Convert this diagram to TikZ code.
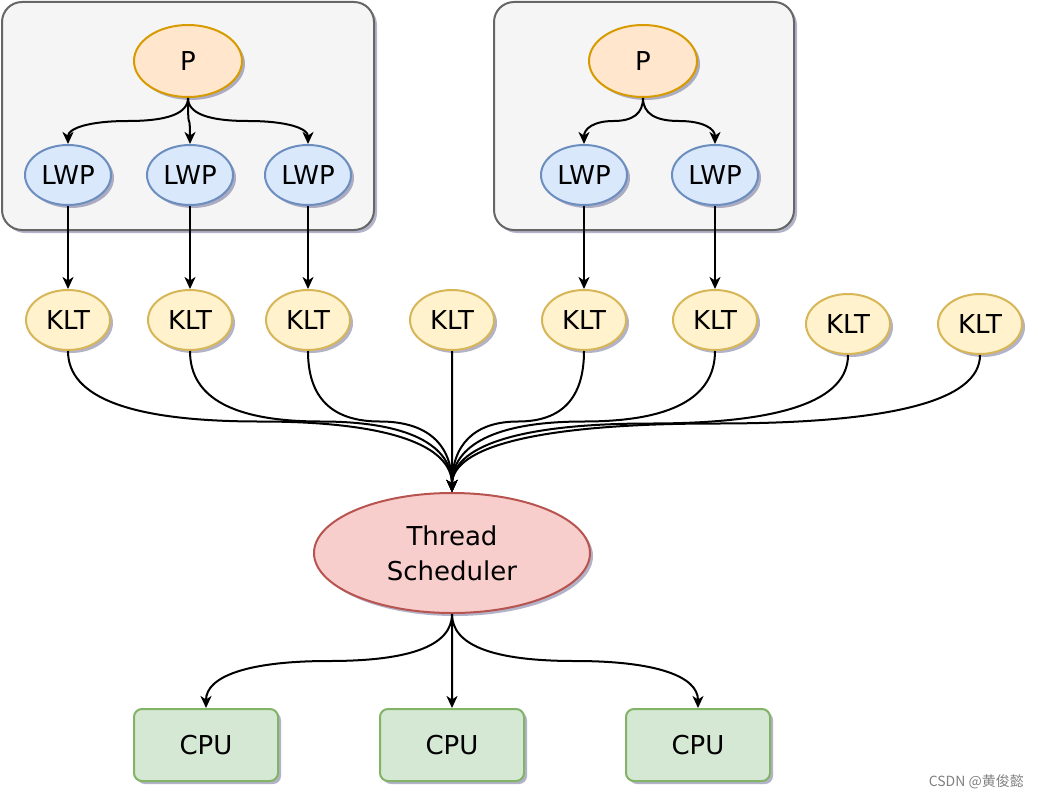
\documentclass[tikz,border=0pt]{standalone}
\usepackage{fontspec}
\setmainfont{DejaVu Sans}
\newfontfamily\cjkfont{Noto Sans CJK SC}
\usetikzlibrary{shapes.geometric,arrows.meta,shadows,calc}

\definecolor{grpfill}{HTML}{F5F5F5}
\definecolor{grpline}{HTML}{666666}
\definecolor{pfill}{HTML}{FFE6CC}
\definecolor{pline}{HTML}{D79B00}
\definecolor{lwpfill}{HTML}{DAE8FC}
\definecolor{lwpline}{HTML}{6C8EBF}
\definecolor{kltfill}{HTML}{FFF2CC}
\definecolor{kltline}{HTML}{D6B656}
\definecolor{schfill}{HTML}{F8CECC}
\definecolor{schline}{HTML}{B85450}
\definecolor{cpufill}{HTML}{D5E8D4}
\definecolor{cpuline}{HTML}{82B366}

\begin{document}
\begin{tikzpicture}[
    x=1pt, y=-1pt,
    every node/.style={font=\fontsize{26}{35}\selectfont, inner sep=0pt},
    nodeshadow/.style={drop shadow={shadow xshift=3pt, shadow yshift=-3pt, opacity=0.3, fill=black!70!blue}},
    group/.style={rectangle, rounded corners=20pt, draw=grpline, fill=grpfill, line width=2pt, nodeshadow},
    proc/.style={ellipse, draw=pline, fill=pfill, line width=2pt, minimum width=108, minimum height=72, nodeshadow},
    lwp/.style={ellipse, draw=lwpline, fill=lwpfill, line width=2pt, minimum width=86, minimum height=60, nodeshadow},
    klt/.style={ellipse, draw=kltline, fill=kltfill, line width=2pt, minimum width=84, minimum height=60, nodeshadow},
    sched/.style={ellipse, draw=schline, fill=schfill, line width=2pt, minimum width=276, minimum height=120, align=center, nodeshadow},
    cpu/.style={rectangle, rounded corners=8pt, draw=cpuline, fill=cpufill, line width=2pt, minimum width=144, minimum height=72, nodeshadow},
    link/.style={draw, line width=2pt, -{Stealth[length=12pt, width=11pt, inset=3.5pt]}},
    curvy/.style={to path={let \p1=(\tikztostart), \p2=(\tikztotarget),
        \n1={0.5*\y1+0.5*\y2}, \n2={0.5*\x1+0.5*\x2} in
        .. controls (\x1,{\y1/3+2*\n1/3}) and ({\n2/3+2*\x1/3},\n1) .. (\n2,\n1)
        .. controls ({\n2/3+2*\x2/3},\n1) and (\x2,{\y2/3+2*\n1/3}) .. (\p2) \tikztonodes}}
]
\useasboundingbox (0,0) rectangle (1038,800);

% Process groups
\node[group, minimum width=372, minimum height=228] (grpa) at (188,116) {};
\node[group, minimum width=300, minimum height=228] (grpb) at (644,116) {};

% Processes
\node[proc] (pa) at (188,61) {P};
\node[proc] (pb) at (643,61) {P};

% Lightweight processes
\node[lwp] (lwpa1) at (68,175) {LWP};
\node[lwp] (lwpa2) at (190,175) {LWP};
\node[lwp] (lwpa3) at (308,175) {LWP};
\node[lwp] (lwpb1) at (584,175) {LWP};
\node[lwp] (lwpb2) at (715,175) {LWP};

% Kernel level threads
\node[klt] (klt1) at (68,320) {KLT};
\node[klt] (klt2) at (190,320) {KLT};
\node[klt] (klt3) at (308,320) {KLT};
\node[klt] (klt4) at (452,320) {KLT};
\node[klt] (klt5) at (584,320) {KLT};
\node[klt] (klt6) at (715,320) {KLT};
\node[klt] (klt7) at (848,324) {KLT};
\node[klt] (klt8) at (980,324) {KLT};

% Scheduler
\node[sched] (sched) at (452,553) {Thread\\Scheduler};

% CPUs
\node[cpu] (cpu1) at (206,745) {CPU};
\node[cpu] (cpu2) at (452,745) {CPU};
\node[cpu] (cpu3) at (698,745) {CPU};

% Edges from processes
\draw[link] (pa.south) to[curvy] (lwpa1.north);
\draw[link] (pa.south) to[curvy] (lwpa2.north);
\draw[link] (pa.south) to[curvy] (lwpa3.north);
\draw[link] (pb.south) to[curvy] (lwpb1.north);
\draw[link] (pb.south) to[curvy] (lwpb2.north);

% Edges from LWPs
\draw[link] (lwpa1) -- (klt1);
\draw[link] (lwpa2) -- (klt2);
\draw[link] (lwpa3) -- (klt3);
\draw[link] (lwpb1) -- (klt5);
\draw[link] (lwpb2) -- (klt6);

% Edges from KLTs
\foreach \k in {1,...,8}
    \draw[link] (klt\k.south) to[curvy] (sched.north);

% Edges to CPUs
\draw[link] (sched.south) to[curvy] (cpu1.north);
\draw[link] (sched.south) to[curvy] (cpu2.north);
\draw[link] (sched.south) to[curvy] (cpu3.north);

% Watermark
\node[font=\cjkfont\fontsize{14}{14}\selectfont, text=gray, anchor=east] (mark) at (1024,782) {CSDN @黄俊懿};

\end{tikzpicture}
\end{document}
